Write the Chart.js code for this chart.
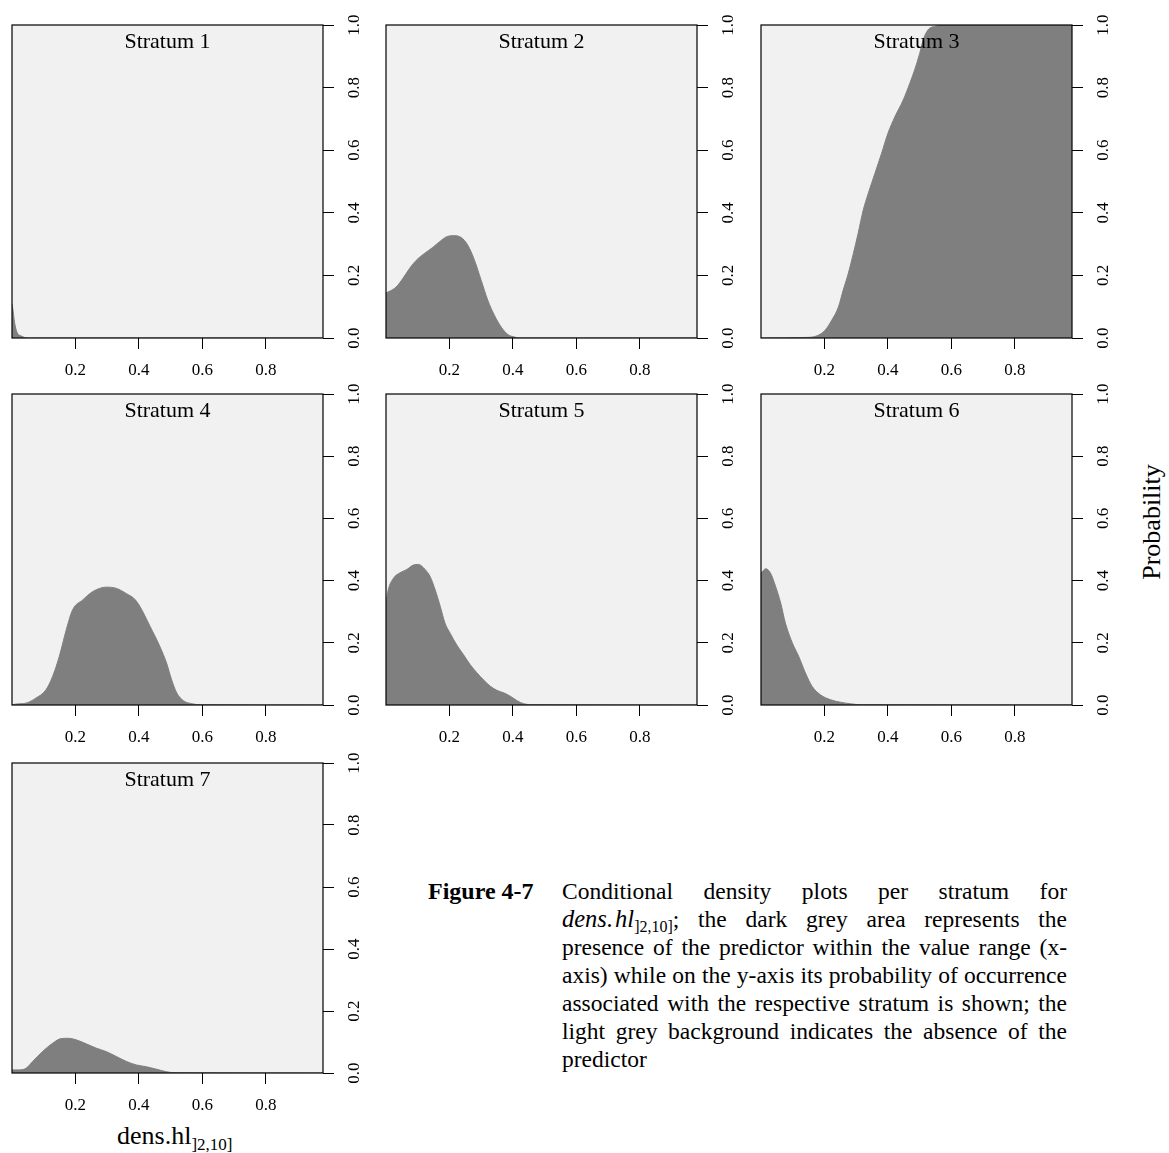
<!DOCTYPE html>
<html>
<head>
<meta charset="utf-8">
<script src="https://cdn.jsdelivr.net/npm/chart.js@4.4.0/dist/chart.umd.min.js"></script>
<style>
  body { margin: 0; background: #fff; width: 1169px; height: 1153px; position: relative; overflow: hidden;
         font-family: "Liberation Serif", "Times New Roman", serif; color: #000; }
  canvas.panel { position: absolute; }
  #ylab { position: absolute; left: 1152px; top: 522px; font-size: 26px; white-space: nowrap;
          transform: translate(-50%, -50%) rotate(-90deg); }
  #xlab { position: absolute; left: 117px; top: 1123px; font-size: 26px; line-height: 26px; white-space: nowrap; }
  #xlab sub { font-size: 17px; vertical-align: -6px; }
  #fignum { position: absolute; left: 428px; top: 877px; font-size: 24px; line-height: 28px; font-weight: bold; }
  #caption { position: absolute; left: 562px; top: 877px; width: 505px; font-size: 23.5px; line-height: 28px; }
  #caption div { height: 28px; white-space: nowrap; text-align: justify; text-align-last: justify; }
  #caption div.last { text-align-last: left; }
  #caption i { font-size: 24.5px; }
  #caption sub { font-size: 16px; vertical-align: -5px; }
</style>
</head>
<body>

<div id="ylab">Probability</div>
<div id="xlab">dens.hl<sub>]2,10]</sub></div>
<div id="fignum">Figure 4-7</div>
<div id="caption">
  <div>Conditional density plots per stratum for</div>
  <div><i>dens.&#8202;hl</i><sub>]2,10]</sub>; the dark grey area represents the</div>
  <div>presence of the predictor within the value range (x-</div>
  <div>axis) while on the y-axis its probability of occurrence</div>
  <div>associated with the respective stratum is shown; the</div>
  <div>light grey background indicates the absence of the</div>
  <div class="last">predictor</div>
</div>

<script>
// conditional probability of each stratum along dens.hl
const strata = ['Stratum 1', 'Stratum 2', 'Stratum 3', 'Stratum 4', 'Stratum 5', 'Stratum 6', 'Stratum 7'];

const s1x = [0, 0.003, 0.008, 0.015, 0.03, 0.05, 0.98];
const s1p = [0.11, 0.09, 0.05, 0.02, 0.006, 0, 0];

const s2x = [0, 0.011, 0.032, 0.053, 0.074, 0.095, 0.121, 0.147, 0.168, 0.195, 0.216, 0.237, 0.258, 0.279, 0.3, 0.321, 0.342, 0.363, 0.384, 0.405, 0.42, 0.98];
const s2p = [0.144, 0.149, 0.163, 0.19, 0.222, 0.248, 0.27, 0.289, 0.307, 0.325, 0.327, 0.321, 0.296, 0.248, 0.184, 0.12, 0.072, 0.035, 0.011, 0.003, 0, 0];

const s3x = [0, 0.15, 0.181, 0.202, 0.223, 0.244, 0.259, 0.275, 0.291, 0.306, 0.322, 0.338, 0.359, 0.38, 0.4, 0.422, 0.448, 0.469, 0.484, 0.5, 0.511, 0.526, 0.553, 0.565, 0.98];
const s3p = [0, 0.002, 0.009, 0.025, 0.057, 0.099, 0.153, 0.206, 0.27, 0.334, 0.408, 0.462, 0.526, 0.59, 0.654, 0.707, 0.76, 0.814, 0.856, 0.909, 0.952, 0.984, 0.997, 1, 1];

const s4x = [0, 0.012, 0.044, 0.075, 0.107, 0.128, 0.149, 0.171, 0.191, 0.223, 0.255, 0.297, 0.329, 0.361, 0.387, 0.403, 0.435, 0.466, 0.487, 0.503, 0.519, 0.54, 0.567, 0.593, 0.98];
const s4p = [0, 0.003, 0.006, 0.022, 0.049, 0.092, 0.156, 0.242, 0.306, 0.338, 0.365, 0.379, 0.375, 0.358, 0.34, 0.317, 0.253, 0.188, 0.135, 0.081, 0.039, 0.014, 0.004, 0.001, 0];

const s5x = [0, 0.007, 0.023, 0.044, 0.066, 0.086, 0.102, 0.123, 0.139, 0.155, 0.171, 0.186, 0.202, 0.223, 0.244, 0.265, 0.287, 0.307, 0.329, 0.35, 0.371, 0.392, 0.413, 0.434, 0.46, 0.98];
const s5p = [0.328, 0.37, 0.407, 0.425, 0.436, 0.45, 0.452, 0.436, 0.413, 0.37, 0.317, 0.263, 0.231, 0.193, 0.162, 0.13, 0.103, 0.081, 0.06, 0.047, 0.039, 0.028, 0.014, 0.004, 0.001, 0];

const s6x = [0, 0.015, 0.03, 0.046, 0.062, 0.077, 0.099, 0.119, 0.14, 0.161, 0.187, 0.219, 0.25, 0.282, 0.313, 0.98];
const s6p = [0.424, 0.438, 0.424, 0.381, 0.328, 0.263, 0.199, 0.156, 0.103, 0.06, 0.033, 0.017, 0.009, 0.004, 0.001, 0];

const s7x = [0, 0.022, 0.044, 0.065, 0.096, 0.128, 0.155, 0.176, 0.202, 0.234, 0.266, 0.297, 0.329, 0.361, 0.392, 0.424, 0.456, 0.487, 0.513, 0.98];
const s7p = [0.01, 0.01, 0.015, 0.037, 0.069, 0.096, 0.111, 0.112, 0.107, 0.094, 0.08, 0.069, 0.053, 0.037, 0.026, 0.02, 0.012, 0.004, 0.001, 0];

const xs = [s1x, s2x, s3x, s4x, s5x, s6x, s7x];
const ps = [s1p, s2p, s3p, s4p, s5p, s6p, s7p];

const xTicks = [0.2, 0.4, 0.6, 0.8];
const yTicks = [0, 0.2, 0.4, 0.6, 0.8, 1.0];
const xRange = [0, 0.98];

// panel grid (px)
const colLeft = [12, 386, 761];
const rowTop = [25, 394, 763];
const rowH = [313, 311, 310];
const plotW = 311;
const AXIS_W = 62, AXIS_H = 52, TOP_PAD = 21;

const LIGHT = '#f1f1f1';
const DARK = '#7f7f7f';
const tickFont = { family: 'Liberation Serif', size: 17 };

// keep the plot area at its fixed size: no extra room for edge labels
function fixAxis(s, w, h) {
  if (w) s.width = w;
  if (h) s.height = h;
  s.paddingTop = 0; s.paddingBottom = 0;
  s.paddingLeft = 0; s.paddingRight = 0;
}

// grey background, box and in-panel title
const panelFrame = {
  id: 'panelFrame',
  beforeDatasetsDraw(chart) {
    const { ctx, chartArea: a } = chart;
    ctx.save();
    ctx.fillStyle = LIGHT;
    ctx.fillRect(a.left, a.top, a.right - a.left, a.bottom - a.top);
    ctx.restore();
  },
  afterDatasetsDraw(chart, args, opts) {
    const { ctx, chartArea: a } = chart;
    ctx.save();
    ctx.strokeStyle = '#000';
    ctx.lineWidth = 1.2;
    ctx.strokeRect(a.left, a.top, a.right - a.left, a.bottom - a.top);
    ctx.fillStyle = '#000';
    ctx.font = '22px "Liberation Serif"';
    ctx.textAlign = 'center';
    ctx.textBaseline = 'alphabetic';
    ctx.fillText(opts.title, (a.left + a.right) / 2, a.top + 23);
    ctx.restore();
  }
};

strata.forEach((name, i) => {
  const col = i % 3, row = Math.floor(i / 3);
  const cv = document.createElement('canvas');
  cv.className = 'panel';
  cv.width = plotW + 1 + AXIS_W;
  cv.height = rowH[row] + TOP_PAD + AXIS_H;
  cv.style.left = (colLeft[col] - 1) + 'px';
  cv.style.top = (rowTop[row] - TOP_PAD) + 'px';
  document.body.appendChild(cv);

  const pts = xs[i].map((x, k) => ({ x: x, y: ps[i][k] }));

  new Chart(cv, {
    type: 'line',
    data: {
      datasets: [{
        data: pts,
        fill: 'origin',
        backgroundColor: DARK,
        borderColor: DARK,
        borderWidth: 1,
        pointRadius: 0,
        cubicInterpolationMode: 'monotone'
      }]
    },
    options: {
      responsive: false,
      animation: false,
      layout: { padding: { left: 1, top: TOP_PAD, right: 0, bottom: 0 } },
      plugins: {
        legend: { display: false },
        tooltip: { enabled: false },
        panelFrame: { title: name }
      },
      scales: {
        x: {
          type: 'linear',
          position: 'bottom',
          min: xRange[0],
          max: xRange[1],
          afterBuildTicks: s => { s.ticks = xTicks.map(v => ({ value: v })); },
          afterFit: s => fixAxis(s, 0, AXIS_H),
          border: { display: false },
          grid: { drawOnChartArea: false, tickLength: 11, tickColor: '#000', tickWidth: 1 },
          ticks: { color: '#000', font: tickFont, padding: 11, maxRotation: 0, callback: v => v.toFixed(1) }
        },
        y: {
          type: 'linear',
          position: 'right',
          min: 0,
          max: 1,
          afterBuildTicks: s => { s.ticks = yTicks.map(v => ({ value: v })); },
          afterFit: s => fixAxis(s, AXIS_W, 0),
          border: { display: false },
          grid: { drawOnChartArea: false, tickLength: 11, tickColor: '#000', tickWidth: 1 },
          ticks: { color: '#000', font: tickFont, padding: 10, minRotation: 90, maxRotation: 90,
                   crossAlign: 'center', callback: v => v.toFixed(1) }
        }
      }
    },
    plugins: [panelFrame]
  });
});
</script>
</body>
</html>
